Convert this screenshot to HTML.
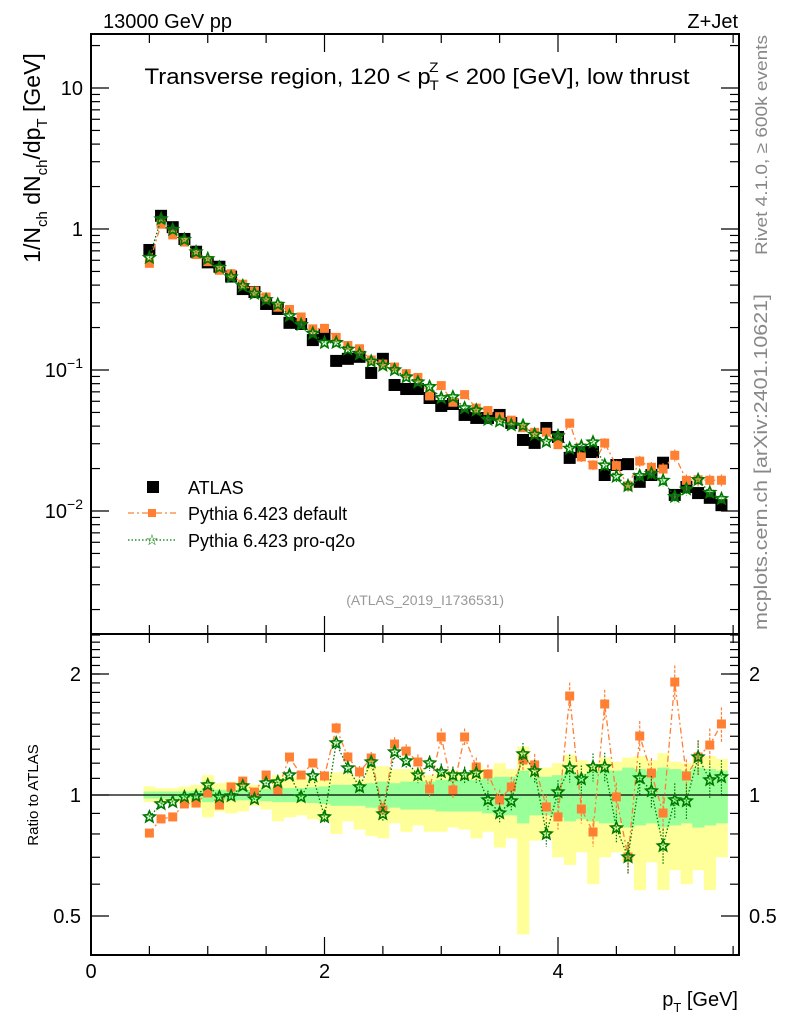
<!DOCTYPE html>
<html><head><meta charset="utf-8"><style>
body{margin:0;background:#fff;}
svg{display:block;font-family:"Liberation Sans",sans-serif;}
</style></head><body>
<svg id="c" width="786" height="1024" viewBox="0 0 786 1024">
<text x="103" y="28" font-size="20">13000 GeV pp</text>
<text x="738" y="28" font-size="20" text-anchor="end">Z+Jet</text>
<text x="417" y="84" font-size="22" text-anchor="middle" textLength="545" lengthAdjust="spacingAndGlyphs">Transverse region, 120 &lt; p<tspan font-size="14" dy="6" dx="-1">T</tspan><tspan font-size="14" dy="-18" dx="-9">Z</tspan><tspan dy="12"> &lt; 200 [GeV], low thrust</tspan></text>
<text transform="translate(40,158) rotate(-90)" font-size="23" text-anchor="middle">1/N<tspan font-size="15" dy="7">ch</tspan><tspan dy="-7"> dN</tspan><tspan font-size="15" dy="7">ch</tspan><tspan dy="-7">/dp</tspan><tspan font-size="15" dy="7">T</tspan><tspan dy="-7"> [GeV]</tspan></text>
<text transform="translate(38,795) rotate(-90)" font-size="15" text-anchor="middle">Ratio to ATLAS</text>
<text transform="translate(767,145) rotate(-90)" font-size="17" fill="#888" text-anchor="middle" textLength="220" lengthAdjust="spacingAndGlyphs">Rivet 4.1.0, ≥ 600k events</text>
<text transform="translate(767,462) rotate(-90)" font-size="18" fill="#888" text-anchor="middle" textLength="336" lengthAdjust="spacingAndGlyphs">mcplots.cern.ch [arXiv:2401.10621]</text>
<text x="738" y="1006" font-size="20" text-anchor="end">p<tspan font-size="13" dy="6">T</tspan><tspan dy="-6"> [GeV]</tspan></text>
<text x="504" y="605" font-size="14" fill="#999" text-anchor="end">(ATLAS_2019_I1736531)</text>
<g id="legend">
<g><rect x="147" y="481" width="12" height="12" fill="#000"/><text x="188" y="494" font-size="18">ATLAS</text></g>
<g><line x1="128" y1="513" x2="176" y2="513" stroke="#ff8033" stroke-width="1.3" stroke-dasharray="6,3,2,3"/><rect x="148" y="509" width="8" height="8" fill="#ff8033"/><text x="188" y="520" font-size="18">Pythia 6.423 default</text></g>
<g><line x1="128" y1="540" x2="176" y2="540" stroke="#007700" stroke-width="1.3" stroke-dasharray="1.5,2"/><text x="152" y="545" font-size="15" fill="#007700" text-anchor="middle">☆</text><text x="188" y="547" font-size="18">Pythia 6.423 pro-q2o</text></g>
</g>
<g id="g"></g>
</svg>
<script>
const xs=[0.5,0.6,0.7,0.8,0.9,1.0,1.1,1.2,1.3,1.4,1.5,1.6,1.7,1.8,1.9,2.0,2.1,2.2,2.3,2.4,2.5,2.6,2.7,2.8,2.9,3.0,3.1,3.2,3.3,3.4,3.5,3.6,3.7,3.8,3.9,4.0,4.1,4.2,4.3,4.4,4.5,4.6,4.7,4.8,4.9,5.0,5.1,5.2,5.3,5.4];
const atlas=[0.71,1.24,1.03,0.85,0.69,0.58,0.54,0.46,0.375,0.357,0.294,0.271,0.216,0.212,0.163,0.177,0.116,0.120,0.124,0.0953,0.120,0.0783,0.0733,0.0733,0.0633,0.0556,0.0574,0.048,0.0457,0.0457,0.048,0.0421,0.0319,0.0304,0.0388,0.0335,0.0238,0.0262,0.0262,0.018,0.0212,0.0215,0.0161,0.018,0.022,0.013,0.0148,0.0134,0.0124,0.011];
const ratioDefault=[0.804,0.872,0.882,0.950,0.955,1.012,0.944,1.047,1.083,1.017,1.121,1.029,1.243,1.121,1.201,1.115,1.468,1.243,1.141,1.236,0.918,1.339,1.286,1.208,1.035,1.394,1.029,1.394,1.174,1.128,0.972,1.047,1.222,1.188,0.934,0.882,1.763,0.923,0.809,1.684,0.989,0.701,1.402,1.134,0.902,1.910,1.115,1.243,1.331,1.502];
const ratioProq2o=[0.882,0.950,0.961,0.989,0.994,1.059,0.989,0.994,1.053,0.977,1.071,1.077,1.121,0.989,1.115,0.882,1.347,1.167,1.047,1.208,0.897,1.279,1.215,1.121,1.201,1.141,1.121,1.121,1.134,0.972,0.902,0.966,1.265,1.147,0.800,1.017,1.167,1.096,1.174,1.174,0.828,0.701,1.102,1.023,0.747,0.972,0.966,1.243,1.090,1.109];
const mcErr=[0.01,0.01,0.01,0.01,0.01,0.015,0.015,0.015,0.015,0.02,0.02,0.02,0.025,0.025,0.025,0.03,0.03,0.03,0.035,0.035,0.04,0.04,0.04,0.045,0.045,0.05,0.05,0.05,0.055,0.055,0.06,0.06,0.065,0.065,0.07,0.07,0.08,0.08,0.08,0.085,0.085,0.09,0.09,0.09,0.1,0.1,0.1,0.1,0.1,0.1];
const bandStat=[0.02,0.02,0.02,0.02,0.025,0.04,0.03,0.03,0.03,0.03,0.035,0.04,0.04,0.04,0.045,0.05,0.06,0.06,0.06,0.07,0.08,0.07,0.08,0.08,0.08,0.09,0.09,0.09,0.09,0.10,0.11,0.11,0.15,0.11,0.11,0.12,0.14,0.13,0.14,0.15,0.15,0.17,0.16,0.15,0.17,0.16,0.15,0.17,0.16,0.15];
const bandTotUp=[0.05,0.04,0.04,0.05,0.06,0.12,0.07,0.08,0.07,0.06,0.05,0.12,0.11,0.11,0.10,0.12,0.14,0.13,0.10,0.18,0.18,0.16,0.16,0.16,0.12,0.14,0.15,0.14,0.19,0.16,0.20,0.16,0.32,0.16,0.17,0.20,0.26,0.22,0.20,0.24,0.21,0.24,0.25,0.22,0.27,0.21,0.20,0.25,0.25,0.23];
const bandTotDn=[0.04,0.04,0.04,0.05,0.07,0.12,0.09,0.10,0.09,0.06,0.08,0.14,0.12,0.11,0.13,0.14,0.20,0.14,0.18,0.21,0.22,0.15,0.19,0.16,0.19,0.19,0.17,0.18,0.22,0.19,0.26,0.22,0.55,0.23,0.22,0.30,0.33,0.28,0.40,0.30,0.28,0.32,0.42,0.32,0.42,0.35,0.40,0.35,0.42,0.30];
const xTicks=[0,2,4];
const yTicks=[10,1,0.1,0.01];
const rTicks=[2,1,0.5];

const NS='http://www.w3.org/2000/svg';
const L=91,R=739,T=34,MB=634,RB=955;
const X=v=>L+v*116.75;
const Y=v=>229-Math.log10(v)*141;
const RY=v=>795-Math.log10(v)*402;
const g=document.getElementById('g');
function el(t,a,p){const e=document.createElementNS(NS,t);for(const k in a)e.setAttribute(k,a[k]);(p||g).appendChild(e);return e;}
const half=0.05*116.75;
const bands=el('g',{});


xs.forEach((x,i)=>{
  const r1=el('rect',{x:X(x)-half,y:RY(1+bandTotUp[i]),width:2*half+0.5,height:RY(1-bandTotDn[i])-RY(1+bandTotUp[i]),fill:'#ffff99'},bands);
  
  
});
xs.forEach((x,i)=>{
  const r2=el('rect',{x:X(x)-half,y:RY(1+bandStat[i]),width:2*half+0.5,height:RY(1-bandStat[i])-RY(1+bandStat[i]),fill:'#99ff99'},bands);
  
  
});
const one=el('line',{x1:L,x2:R,y1:RY(1),y2:RY(1),stroke:'#000','stroke-width':1.3});


[[T,MB],[MB,RB]].forEach(([a,b],k)=>{
  const f=el('rect',{x:L,y:a,width:R-L,height:b-a,fill:'none',stroke:'#000','stroke-width':2});
  
  
  for(let v=0;v<=5.5;v+=0.5){
    const major=Math.abs(v-Math.round(v/2)*2)<1e-6;
    const len=major?18:9;
    el('line',{x1:X(v),x2:X(v),y1:b,y2:b-len,stroke:'#000','stroke-width':1.2});
    el('line',{x1:X(v),x2:X(v),y1:a,y2:a+len,stroke:'#000','stroke-width':1.2});
  }
});
for(let d=-3;d<=1;d++){for(let m=1;m<10;m++){const v=m*Math.pow(10,d);const y=Y(v);if(y<T||y>MB)continue;const len=m==1?18:9;
 el('line',{x1:L,x2:L+len,y1:y,y2:y,stroke:'#000','stroke-width':1.2});el('line',{x1:R,x2:R-len,y1:y,y2:y,stroke:'#000','stroke-width':1.2});}}
yTicks.forEach(v=>{
  const t=el('text',{x:L-8,y:Y(v)+7,'font-size':20,'text-anchor':'end'});
  
  
  if(v==10)t.textContent='10';else if(v==1)t.textContent='1';
  else{const e=Math.round(Math.log10(v));t.textContent='10';const s=el('tspan',{'font-size':14,dy:-9},t);s.textContent='−'+(-e);}
});
[0.4,0.5,0.6,0.7,0.8,0.9,1,1.5,2,2.5].forEach(v=>{const y=RY(v);if(y<MB||y>RB)return;const len=(v==0.5||v==1||v==2)?18:9;
 el('line',{x1:L,x2:L+len,y1:y,y2:y,stroke:'#000','stroke-width':1.2});el('line',{x1:R,x2:R-len,y1:y,y2:y,stroke:'#000','stroke-width':1.2});});
for(let v=1.1;v<2.5;v+=0.1){if(Math.abs(v-1.5)<0.01)continue;const y=RY(v);if(y<MB)break;el('line',{x1:L,x2:L+9,y1:y,y2:y,stroke:'#000','stroke-width':1.2});el('line',{x1:R,x2:R-9,y1:y,y2:y,stroke:'#000','stroke-width':1.2});}
rTicks.forEach(v=>{
  const t=el('text',{x:L-10,y:RY(v)+7,'font-size':20,'text-anchor':'end'});t.textContent=String(v);
  
  
  const t2=el('text',{x:R+10,y:RY(v)+7,'font-size':20});t2.textContent=String(v);
  
  
});
xTicks.forEach(v=>{
  const t=el('text',{x:X(v),y:978,'font-size':20,'text-anchor':'middle'});t.textContent=String(v);
  
  
});
function star(cx,cy,r,parent){let p='';for(let k=0;k<10;k++){const a=-Math.PI/2+k*Math.PI/5;const rr=k%2?r*0.45:r;p+=(k?'L':'M')+(cx+rr*Math.cos(a)).toFixed(1)+','+(cy+rr*Math.sin(a)).toFixed(1);}
 return el('path',{d:p+'Z',fill:'#99ff99','fill-opacity':0.3,stroke:'#007700','stroke-width':1.6},parent);}
function series(vals,yf,color,dash,kind,name,errs){
  const grp=el('g',{});
  
  
  if(dash){el('polyline',{points:xs.map((x,i)=>X(x)+','+yf(vals[i])).join(' '),fill:'none',stroke:color,'stroke-width':1.3,'stroke-dasharray':dash},grp);}
  xs.forEach((x,i)=>{
    const cx=X(x),cy=yf(vals[i]);
    if(errs){const e=errs[i];el('line',{x1:cx,x2:cx,y1:yf(vals[i]*(1+e)),y2:yf(vals[i]*(1-e)),stroke:color,'stroke-width':1.2,'stroke-dasharray':kind=='star'?'1.5,1.5':'3,1.5'},grp);}
    let m;
    if(kind=='big')m=el('rect',{x:cx-6,y:cy-6,width:12,height:12,fill:'#000'},grp);
    else if(kind=='sq')m=el('rect',{x:cx-4.5,y:cy-4.5,width:9,height:9,fill:color},grp);
    else m=star(cx,cy,6,grp);
    
    
  });
}
const mcDef=atlas.map((a,i)=>a*ratioDefault[i]);
const mcPro=atlas.map((a,i)=>a*ratioProq2o[i]);
series(atlas,Y,'#000',null,'big','atlas-series',null);
series(mcDef,Y,'#ff8033','6,3,2,3','sq','default-series',mcErr);
series(mcPro,Y,'#007700','1.5,2','star','proq2o-series',mcErr);
series(ratioDefault,RY,'#ff8033','6,3,2,3','sq','default-ratio',mcErr);
series(ratioProq2o,RY,'#007700','1.5,2','star','proq2o-ratio',mcErr);
</script>
</body></html>
